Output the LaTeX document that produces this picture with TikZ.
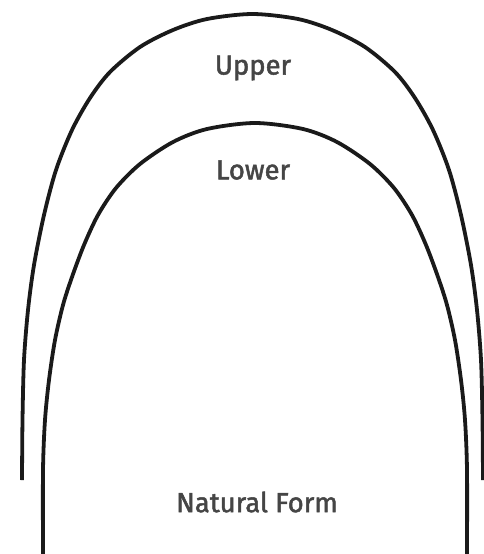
\documentclass[tikz,border=0pt]{standalone}
\usepackage{fontspec}
\setmainfont{Fira Sans}
\newfontfamily\lblfont{Fira Sans}[FakeBold=1.8]
\definecolor{ink}{HTML}{1A1A1A}
\definecolor{txt}{HTML}{454545}
\tikzset{arch/.style={line width=2.7pt,draw=ink},lbl/.style={font=\lblfont\fontsize{19.5}{23}\selectfont,text=txt}}

\begin{document}
\begin{tikzpicture}[x=.025cm,y=-.025cm]
\useasboundingbox (0,0) rectangle (484,554);
% upper arch
\draw[arch] plot[smooth] coordinates {(22,480) (22.5,420) (24,360) (28,310) (34,265) (44,215) (56,170) (72,130) (90,98) (110,72) (140,47) (173,30) (207,19) (252.5,14)
 (298,19) (332,30) (365,47) (395,72) (415,98) (433,130) (449,170) (461,215) (471,265) (477,310) (481,360) (482.5,420) (483,480)};
% lower arch
\draw[arch] plot[smooth] coordinates {(43,554) (43,470) (45,420) (49,380) (55,340) (63,305) (72,277) (84,245) (98,215) (116,188) (140,164) (173,142) (207,129) (255,123)
 (303,129) (337,142) (370,164) (394,188) (412,215) (426,245) (438,277) (447,305) (455,340) (461,380) (465,420) (467,470) (467,554)};
\node[lbl] (upper) at (253,68) {Upper};
\node[lbl] (lower) at (253,170) {Lower};
\node[lbl] (natural) at (257,502) {Natural Form};
\end{tikzpicture}
\end{document}
